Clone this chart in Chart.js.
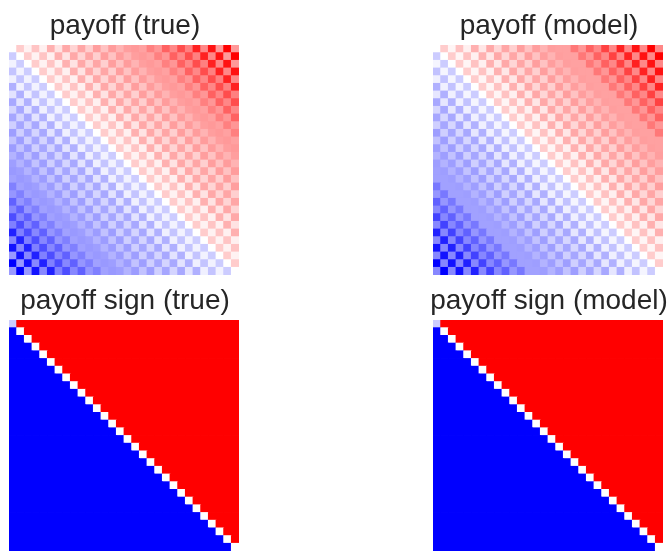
<!DOCTYPE html>
<html lang="en">
<head>
    <meta charset="UTF-8">
    <title>Payoff matrices</title>
    <script src="https://cdn.jsdelivr.net/npm/chart.js"></script>
    <style>
        html, body { margin: 0; padding: 0; background: #fff; overflow: hidden; }
        body { width: 670px; height: 551px; position: relative; }
        canvas { position: absolute; }
    </style>
</head>
<body>
    <canvas id="payoffTrueChart" width="248" height="275" style="left:1px;top:0"></canvas>
    <canvas id="payoffModelChart" width="248" height="275" style="left:425px;top:0"></canvas>
    <canvas id="signTrueChart" width="248" height="276" style="left:1px;top:275px"></canvas>
    <canvas id="signModelChart" width="248" height="276" style="left:425px;top:275px"></canvas>

    <script>
        // Cell values, in percent of the colour range, top row first
        const payoffTrue = [
            [0,20,5,23,6,31,11,34,17,35,19,38,24,39,30,38,40,37,50,41,62,47,70,50,87,47,93,40,100,40],
            [-20,0,20,5,23,6,31,11,34,17,35,19,38,24,39,30,38,40,37,50,41,62,47,70,50,87,47,93,40,100],
            [-5,-20,0,20,5,23,6,31,11,34,17,35,19,38,24,39,30,38,40,37,50,41,62,47,70,50,87,47,93,40],
            [-23,-5,-20,0,20,5,23,6,31,11,34,17,35,19,38,24,39,30,38,40,37,50,41,62,47,70,50,87,47,93],
            [-6,-23,-5,-20,0,20,5,23,6,31,11,34,17,35,19,38,24,39,30,38,40,37,50,41,62,47,70,50,87,47],
            [-31,-6,-23,-5,-20,0,20,5,23,6,31,11,34,17,35,19,38,24,39,30,38,40,37,50,41,62,47,70,50,87],
            [-11,-31,-6,-23,-5,-20,0,20,5,23,6,31,11,34,17,35,19,38,24,39,30,38,40,37,50,41,62,47,70,50],
            [-34,-11,-31,-6,-23,-5,-20,0,20,5,23,6,31,11,34,17,35,19,38,24,39,30,38,40,37,50,41,62,47,70],
            [-17,-34,-11,-31,-6,-23,-5,-20,0,20,5,23,6,31,11,34,17,35,19,38,24,39,30,38,40,37,50,41,62,47],
            [-35,-17,-34,-11,-31,-6,-23,-5,-20,0,20,5,23,6,31,11,34,17,35,19,38,24,39,30,38,40,37,50,41,62],
            [-19,-35,-17,-34,-11,-31,-6,-23,-5,-20,0,20,5,23,6,31,11,34,17,35,19,38,24,39,30,38,40,37,50,41],
            [-38,-19,-35,-17,-34,-11,-31,-6,-23,-5,-20,0,20,5,23,6,31,11,34,17,35,19,38,24,39,30,38,40,37,50],
            [-24,-38,-19,-35,-17,-34,-11,-31,-6,-23,-5,-20,0,20,5,23,6,31,11,34,17,35,19,38,24,39,30,38,40,37],
            [-39,-24,-38,-19,-35,-17,-34,-11,-31,-6,-23,-5,-20,0,20,5,23,6,31,11,34,17,35,19,38,24,39,30,38,40],
            [-30,-39,-24,-38,-19,-35,-17,-34,-11,-31,-6,-23,-5,-20,0,20,5,23,6,31,11,34,17,35,19,38,24,39,30,38],
            [-38,-30,-39,-24,-38,-19,-35,-17,-34,-11,-31,-6,-23,-5,-20,0,20,5,23,6,31,11,34,17,35,19,38,24,39,30],
            [-40,-38,-30,-39,-24,-38,-19,-35,-17,-34,-11,-31,-6,-23,-5,-20,0,20,5,23,6,31,11,34,17,35,19,38,24,39],
            [-37,-40,-38,-30,-39,-24,-38,-19,-35,-17,-34,-11,-31,-6,-23,-5,-20,0,20,5,23,6,31,11,34,17,35,19,38,24],
            [-50,-37,-40,-38,-30,-39,-24,-38,-19,-35,-17,-34,-11,-31,-6,-23,-5,-20,0,20,5,23,6,31,11,34,17,35,19,38],
            [-41,-50,-37,-40,-38,-30,-39,-24,-38,-19,-35,-17,-34,-11,-31,-6,-23,-5,-20,0,20,5,23,6,31,11,34,17,35,19],
            [-62,-41,-50,-37,-40,-38,-30,-39,-24,-38,-19,-35,-17,-34,-11,-31,-6,-23,-5,-20,0,20,5,23,6,31,11,34,17,35],
            [-47,-62,-41,-50,-37,-40,-38,-30,-39,-24,-38,-19,-35,-17,-34,-11,-31,-6,-23,-5,-20,0,20,5,23,6,31,11,34,17],
            [-70,-47,-62,-41,-50,-37,-40,-38,-30,-39,-24,-38,-19,-35,-17,-34,-11,-31,-6,-23,-5,-20,0,20,5,23,6,31,11,34],
            [-50,-70,-47,-62,-41,-50,-37,-40,-38,-30,-39,-24,-38,-19,-35,-17,-34,-11,-31,-6,-23,-5,-20,0,20,5,23,6,31,11],
            [-87,-50,-70,-47,-62,-41,-50,-37,-40,-38,-30,-39,-24,-38,-19,-35,-17,-34,-11,-31,-6,-23,-5,-20,0,20,5,23,6,31],
            [-47,-87,-50,-70,-47,-62,-41,-50,-37,-40,-38,-30,-39,-24,-38,-19,-35,-17,-34,-11,-31,-6,-23,-5,-20,0,20,5,23,6],
            [-93,-47,-87,-50,-70,-47,-62,-41,-50,-37,-40,-38,-30,-39,-24,-38,-19,-35,-17,-34,-11,-31,-6,-23,-5,-20,0,20,5,23],
            [-40,-93,-47,-87,-50,-70,-47,-62,-41,-50,-37,-40,-38,-30,-39,-24,-38,-19,-35,-17,-34,-11,-31,-6,-23,-5,-20,0,20,5],
            [-100,-40,-93,-47,-87,-50,-70,-47,-62,-41,-50,-37,-40,-38,-30,-39,-24,-38,-19,-35,-17,-34,-11,-31,-6,-23,-5,-20,0,20],
            [-40,-100,-40,-93,-47,-87,-50,-70,-47,-62,-41,-50,-37,-40,-38,-30,-39,-24,-38,-19,-35,-17,-34,-11,-31,-6,-23,-5,-20,0]
        ];

        const payoffModel = [
            [0,20,4,24,6,31,10,34,16,35,19,38,24,38,30,38,37,37,53,41,62,47,74,47,87,47,93,47,100,47],
            [-20,0,20,4,24,6,31,10,34,16,35,19,38,24,38,30,38,37,37,53,41,62,47,74,47,87,47,93,47,100],
            [-4,-20,0,20,4,24,6,31,10,34,16,35,19,38,24,38,30,38,37,37,53,41,62,47,74,47,87,47,93,47],
            [-24,-4,-20,0,20,4,24,6,31,10,34,16,35,19,38,24,38,30,38,37,37,53,41,62,47,74,47,87,47,93],
            [-6,-24,-4,-20,0,20,4,24,6,31,10,34,16,35,19,38,24,38,30,38,37,37,53,41,62,47,74,47,87,47],
            [-31,-6,-24,-4,-20,0,20,4,24,6,31,10,34,16,35,19,38,24,38,30,38,37,37,53,41,62,47,74,47,87],
            [-10,-31,-6,-24,-4,-20,0,20,4,24,6,31,10,34,16,35,19,38,24,38,30,38,37,37,53,41,62,47,74,47],
            [-34,-10,-31,-6,-24,-4,-20,0,20,4,24,6,31,10,34,16,35,19,38,24,38,30,38,37,37,53,41,62,47,74],
            [-16,-34,-10,-31,-6,-24,-4,-20,0,20,4,24,6,31,10,34,16,35,19,38,24,38,30,38,37,37,53,41,62,47],
            [-35,-16,-34,-10,-31,-6,-24,-4,-20,0,20,4,24,6,31,10,34,16,35,19,38,24,38,30,38,37,37,53,41,62],
            [-19,-35,-16,-34,-10,-31,-6,-24,-4,-20,0,20,4,24,6,31,10,34,16,35,19,38,24,38,30,38,37,37,53,41],
            [-38,-19,-35,-16,-34,-10,-31,-6,-24,-4,-20,0,20,4,24,6,31,10,34,16,35,19,38,24,38,30,38,37,37,53],
            [-24,-38,-19,-35,-16,-34,-10,-31,-6,-24,-4,-20,0,20,4,24,6,31,10,34,16,35,19,38,24,38,30,38,37,37],
            [-38,-24,-38,-19,-35,-16,-34,-10,-31,-6,-24,-4,-20,0,20,4,24,6,31,10,34,16,35,19,38,24,38,30,38,37],
            [-30,-38,-24,-38,-19,-35,-16,-34,-10,-31,-6,-24,-4,-20,0,20,4,24,6,31,10,34,16,35,19,38,24,38,30,38],
            [-38,-30,-38,-24,-38,-19,-35,-16,-34,-10,-31,-6,-24,-4,-20,0,20,4,24,6,31,10,34,16,35,19,38,24,38,30],
            [-37,-38,-30,-38,-24,-38,-19,-35,-16,-34,-10,-31,-6,-24,-4,-20,0,20,4,24,6,31,10,34,16,35,19,38,24,38],
            [-37,-37,-38,-30,-38,-24,-38,-19,-35,-16,-34,-10,-31,-6,-24,-4,-20,0,20,4,24,6,31,10,34,16,35,19,38,24],
            [-53,-37,-37,-38,-30,-38,-24,-38,-19,-35,-16,-34,-10,-31,-6,-24,-4,-20,0,20,4,24,6,31,10,34,16,35,19,38],
            [-41,-53,-37,-37,-38,-30,-38,-24,-38,-19,-35,-16,-34,-10,-31,-6,-24,-4,-20,0,20,4,24,6,31,10,34,16,35,19],
            [-62,-41,-53,-37,-37,-38,-30,-38,-24,-38,-19,-35,-16,-34,-10,-31,-6,-24,-4,-20,0,20,4,24,6,31,10,34,16,35],
            [-47,-62,-41,-53,-37,-37,-38,-30,-38,-24,-38,-19,-35,-16,-34,-10,-31,-6,-24,-4,-20,0,20,4,24,6,31,10,34,16],
            [-74,-47,-62,-41,-53,-37,-37,-38,-30,-38,-24,-38,-19,-35,-16,-34,-10,-31,-6,-24,-4,-20,0,20,4,24,6,31,10,34],
            [-47,-74,-47,-62,-41,-53,-37,-37,-38,-30,-38,-24,-38,-19,-35,-16,-34,-10,-31,-6,-24,-4,-20,0,20,4,24,6,31,10],
            [-87,-47,-74,-47,-62,-41,-53,-37,-37,-38,-30,-38,-24,-38,-19,-35,-16,-34,-10,-31,-6,-24,-4,-20,0,20,4,24,6,31],
            [-47,-87,-47,-74,-47,-62,-41,-53,-37,-37,-38,-30,-38,-24,-38,-19,-35,-16,-34,-10,-31,-6,-24,-4,-20,0,20,4,24,6],
            [-93,-47,-87,-47,-74,-47,-62,-41,-53,-37,-37,-38,-30,-38,-24,-38,-19,-35,-16,-34,-10,-31,-6,-24,-4,-20,0,20,4,24],
            [-47,-93,-47,-87,-47,-74,-47,-62,-41,-53,-37,-37,-38,-30,-38,-24,-38,-19,-35,-16,-34,-10,-31,-6,-24,-4,-20,0,20,4],
            [-100,-47,-93,-47,-87,-47,-74,-47,-62,-41,-53,-37,-37,-38,-30,-38,-24,-38,-19,-35,-16,-34,-10,-31,-6,-24,-4,-20,0,20],
            [-47,-100,-47,-93,-47,-87,-47,-74,-47,-62,-41,-53,-37,-37,-38,-30,-38,-24,-38,-19,-35,-16,-34,-10,-31,-6,-24,-4,-20,0]
        ];

        const signTrue = [
            [-20,100,100,100,100,100,100,100,100,100,100,100,100,100,100,100,100,100,100,100,100,100,100,100,100,100,100,100,100,100],
            [-100,0,100,100,100,100,100,100,100,100,100,100,100,100,100,100,100,100,100,100,100,100,100,100,100,100,100,100,100,100],
            [-100,-100,0,100,100,100,100,100,100,100,100,100,100,100,100,100,100,100,100,100,100,100,100,100,100,100,100,100,100,100],
            [-100,-100,-100,0,100,100,100,100,100,100,100,100,100,100,100,100,100,100,100,100,100,100,100,100,100,100,100,100,100,100],
            [-100,-100,-100,-100,0,100,100,100,100,100,100,100,100,100,100,100,100,100,100,100,100,100,100,100,100,100,100,100,100,100],
            [-100,-100,-100,-100,-100,0,100,100,100,100,100,100,100,100,100,100,100,100,100,100,100,100,100,100,100,100,100,100,100,100],
            [-100,-100,-100,-100,-100,-100,0,100,100,100,100,100,100,100,100,100,100,100,100,100,100,100,100,100,100,100,100,100,100,100],
            [-100,-100,-100,-100,-100,-100,-100,0,100,100,100,100,100,100,100,100,100,100,100,100,100,100,100,100,100,100,100,100,100,100],
            [-100,-100,-100,-100,-100,-100,-100,-100,0,100,100,100,100,100,100,100,100,100,100,100,100,100,100,100,100,100,100,100,100,100],
            [-100,-100,-100,-100,-100,-100,-100,-100,-100,0,100,100,100,100,100,100,100,100,100,100,100,100,100,100,100,100,100,100,100,100],
            [-100,-100,-100,-100,-100,-100,-100,-100,-100,-100,0,100,100,100,100,100,100,100,100,100,100,100,100,100,100,100,100,100,100,100],
            [-100,-100,-100,-100,-100,-100,-100,-100,-100,-100,-100,0,100,100,100,100,100,100,100,100,100,100,100,100,100,100,100,100,100,100],
            [-100,-100,-100,-100,-100,-100,-100,-100,-100,-100,-100,-100,0,100,100,100,100,100,100,100,100,100,100,100,100,100,100,100,100,100],
            [-100,-100,-100,-100,-100,-100,-100,-100,-100,-100,-100,-100,-100,0,100,100,100,100,100,100,100,100,100,100,100,100,100,100,100,100],
            [-100,-100,-100,-100,-100,-100,-100,-100,-100,-100,-100,-100,-100,-100,0,100,100,100,100,100,100,100,100,100,100,100,100,100,100,100],
            [-100,-100,-100,-100,-100,-100,-100,-100,-100,-100,-100,-100,-100,-100,-100,0,100,100,100,100,100,100,100,100,100,100,100,100,100,100],
            [-100,-100,-100,-100,-100,-100,-100,-100,-100,-100,-100,-100,-100,-100,-100,-100,0,100,100,100,100,100,100,100,100,100,100,100,100,100],
            [-100,-100,-100,-100,-100,-100,-100,-100,-100,-100,-100,-100,-100,-100,-100,-100,-100,0,100,100,100,100,100,100,100,100,100,100,100,100],
            [-100,-100,-100,-100,-100,-100,-100,-100,-100,-100,-100,-100,-100,-100,-100,-100,-100,-100,0,100,100,100,100,100,100,100,100,100,100,100],
            [-100,-100,-100,-100,-100,-100,-100,-100,-100,-100,-100,-100,-100,-100,-100,-100,-100,-100,-100,0,100,100,100,100,100,100,100,100,100,100],
            [-100,-100,-100,-100,-100,-100,-100,-100,-100,-100,-100,-100,-100,-100,-100,-100,-100,-100,-100,-100,0,100,100,100,100,100,100,100,100,100],
            [-100,-100,-100,-100,-100,-100,-100,-100,-100,-100,-100,-100,-100,-100,-100,-100,-100,-100,-100,-100,-100,0,100,100,100,100,100,100,100,100],
            [-100,-100,-100,-100,-100,-100,-100,-100,-100,-100,-100,-100,-100,-100,-100,-100,-100,-100,-100,-100,-100,-100,0,100,100,100,100,100,100,100],
            [-100,-100,-100,-100,-100,-100,-100,-100,-100,-100,-100,-100,-100,-100,-100,-100,-100,-100,-100,-100,-100,-100,-100,0,100,100,100,100,100,100],
            [-100,-100,-100,-100,-100,-100,-100,-100,-100,-100,-100,-100,-100,-100,-100,-100,-100,-100,-100,-100,-100,-100,-100,-100,0,100,100,100,100,100],
            [-100,-100,-100,-100,-100,-100,-100,-100,-100,-100,-100,-100,-100,-100,-100,-100,-100,-100,-100,-100,-100,-100,-100,-100,-100,0,100,100,100,100],
            [-100,-100,-100,-100,-100,-100,-100,-100,-100,-100,-100,-100,-100,-100,-100,-100,-100,-100,-100,-100,-100,-100,-100,-100,-100,-100,0,100,100,100],
            [-100,-100,-100,-100,-100,-100,-100,-100,-100,-100,-100,-100,-100,-100,-100,-100,-100,-100,-100,-100,-100,-100,-100,-100,-100,-100,-100,0,100,100],
            [-100,-100,-100,-100,-100,-100,-100,-100,-100,-100,-100,-100,-100,-100,-100,-100,-100,-100,-100,-100,-100,-100,-100,-100,-100,-100,-100,-100,0,100],
            [-100,-100,-100,-100,-100,-100,-100,-100,-100,-100,-100,-100,-100,-100,-100,-100,-100,-100,-100,-100,-100,-100,-100,-100,-100,-100,-100,-100,-100,0]
        ];

        // The model's sign panel reads the same as the true one
        const signModel = signTrue;

        const columnLabels = payoffTrue[0].map((_, i) => String(i));

        // Same blue-white-red ramp as the reference
        function cellColor(value) {
            const f = Math.abs(value) / 100;
            const c = Math.round(255 * (1 - f));
            return value < 0 ? `rgb(${c},${c},255)` : `rgb(255,${c},${c})`;
        }

        // Empty y axes only hold the plot in from the canvas sides, so the long title keeps its full width
        function sideAxis(position, width) {
            return {
                display: true,
                position: position,
                ticks: { display: false },
                grid: { display: false },
                border: { display: false },
                afterFit: scale => { scale.width = width; }
            };
        }

        // Each row is one stacked bar dataset, bottom row first
        function drawPanel(canvasId, titleText, matrix) {
            const rows = matrix.slice().reverse();
            new Chart(document.getElementById(canvasId), {
                type: 'bar',
                data: {
                    labels: columnLabels,
                    datasets: rows.map(row => ({
                        data: row.map(() => 1),
                        backgroundColor: row.map(cellColor),
                        borderWidth: 0,
                        inflateAmount: 0.4,
                        barPercentage: 1,
                        categoryPercentage: 1
                    }))
                },
                options: {
                    responsive: false,
                    animation: false,
                    scales: {
                        x: { display: false, stacked: true },
                        y: { ...sideAxis('left', 8), stacked: true, min: 0, max: rows.length },
                        side: { ...sideAxis('right', 10), type: 'linear' }
                    },
                    plugins: {
                        legend: { display: false },
                        tooltip: { enabled: false },
                        title: {
                            display: true,
                            text: titleText,
                            color: '#262626',
                            font: { family: '"Liberation Sans", Arial, sans-serif', size: 28, weight: 'normal' },
                            padding: { top: 9, bottom: 2.4 }
                        }
                    }
                }
            });
        }

        drawPanel('payoffTrueChart', 'payoff (true)', payoffTrue);
        drawPanel('payoffModelChart', 'payoff (model)', payoffModel);
        drawPanel('signTrueChart', 'payoff sign (true)', signTrue);
        drawPanel('signModelChart', 'payoff sign (model)', signModel);
    </script>
</body>
</html>
